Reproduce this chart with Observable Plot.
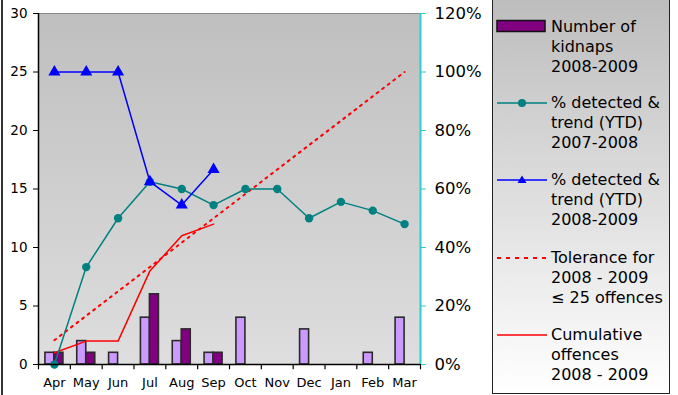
<!DOCTYPE html>
<html><head><meta charset="utf-8">
<script src="https://cdn.jsdelivr.net/npm/d3@7"></script>
<script src="https://cdn.jsdelivr.net/npm/@observablehq/plot@0.6"></script>
<style>
body{margin:0;background:#fff;font-family:"DejaVu Sans",sans-serif;}
#wrap{position:relative;width:678px;height:395px;overflow:hidden;}
#chart{position:absolute;left:0;top:0;}
#legend{position:absolute;left:492px;top:-2px;width:178px;height:396px;box-sizing:border-box;border:1px solid #222;background:linear-gradient(#bdbdbd,#ffffff);}
.mk{position:absolute;left:496px;}
.t{position:absolute;left:551px;font-size:16px;line-height:20px;color:#000;white-space:nowrap;}
#edge{position:absolute;left:1px;top:0;width:2px;height:395px;background:#333;}
</style></head>
<body>
<div id="wrap">
  <div id="chart"></div>
  <div id="edge"></div>
  <div id="legend"></div>
  <svg class="mk" style="top:19px" width="52" height="14"><rect x="1" y="1.5" width="48" height="11" fill="#800080" stroke="#111" stroke-width="1.5"/></svg>
  <div class="t" style="top:17px">Number of<br>kidnaps<br>2008-2009</div>
  <svg class="mk" style="top:96px" width="52" height="14"><line x1="1" x2="51" y1="7" y2="7" stroke="#008080" stroke-width="1.5"/><circle cx="26" cy="7" r="4" fill="#008080"/></svg>
  <div class="t" style="top:93px">% detected &amp;<br>trend (YTD)<br>2007-2008</div>
  <svg class="mk" style="top:173px" width="52" height="14"><line x1="1" x2="51" y1="7" y2="7" stroke="#0000ff" stroke-width="1.5"/><path d="M26,2.5 L30.5,10 L21.5,10 Z" fill="#0000ff"/></svg>
  <div class="t" style="top:170px">% detected &amp;<br>trend (YTD)<br>2008-2009</div>
  <svg class="mk" style="top:251px" width="52" height="14"><line x1="1" x2="51" y1="7" y2="7" stroke="#ff0000" stroke-width="2" stroke-dasharray="4,5"/></svg>
  <div class="t" style="top:248px">Tolerance for<br>2008 - 2009<br>≤ 25 offences</div>
  <svg class="mk" style="top:328px" width="52" height="14"><line x1="1" x2="51" y1="7" y2="7" stroke="#ff0000" stroke-width="1.5"/></svg>
  <div class="t" style="top:325px">Cumulative<br>offences<br>2008 - 2009</div>
</div>
<script>
const months = ["Apr","May","Jun","Jul","Aug","Sep","Oct","Nov","Dec","Jan","Feb","Mar"];
const kidnaps0708 = [1,2,1,4,2,1,4,0,3,0,1,4];
const kidnaps0809 = [1,1,0,6,3,1];
const detected0708 = [0,33.3,50,62.5,60,54.5,60,60,50,55.6,52.6,48];
const detected0809 = [100,100,100,62.5,54.5,66.7];
const tolerance = [2.08,4.17,6.25,8.33,10.42,12.5,14.58,16.67,18.75,20.83,22.92,25];
const cumulative = [1,2,2,8,11,12];
const leftTicks = [0,5,10,15,20,25,30];
const rightTickLabels = ["0%","20%","40%","60%","80%","100%","120%"];
const pctMax = 120, leftMax = 30;

const W = 678, H = 395, ML = 38, MR = 258, MT = 13, MB = 31;
const bw = (W - ML - MR) / months.length;
const barW = 9;

const light = months.map((m,i)=>({month:m, v:kidnaps0708[i]})).filter(d=>d.v>0);
const dark = kidnaps0809.map((v,i)=>({month:months[i], v})).filter(d=>d.v>0);
const teal = detected0708.map((p,i)=>({month:months[i], y:p*leftMax/pctMax}));
const blue = detected0809.map((p,i)=>({month:months[i], y:p*leftMax/pctMax}));
const tol = tolerance.map((v,i)=>({month:months[i], y:v}));
const cum = cumulative.map((v,i)=>({month:months[i], y:v}));

const chart = Plot.plot({
  width: W, height: H,
  marginLeft: ML, marginRight: MR, marginTop: MT, marginBottom: MB,
  style: {fontFamily: "DejaVu Sans", background: "transparent"},
  x: {type: "band", domain: months, padding: 0, round: false},
  y: {domain: [0, leftMax]},
  marks: [
    Plot.frame({fill: "url(#bggrad)", stroke: "#888"}),
    Plot.barY(light, {x: "month", y: "v", fill: "#cc99ff", stroke: "#2a2a2a", strokeWidth: 1.6, insetLeft: bw/2 - barW, insetRight: bw/2}),
    Plot.barY(dark, {x: "month", y: "v", fill: "#800080", stroke: "#2a2a2a", strokeWidth: 1.6, insetLeft: bw/2, insetRight: bw/2 - barW}),
    Plot.line(tol, {x: "month", y: "y", stroke: "#ff0000", strokeWidth: 2, strokeDasharray: "2,5"}),
    Plot.line(cum, {x: "month", y: "y", stroke: "#ff0000", strokeWidth: 1.5}),
    Plot.line(teal, {x: "month", y: "y", stroke: "#008080", strokeWidth: 1.5}),
    Plot.dot(teal, {x: "month", y: "y", fill: "#008080", r: 4.2}),
    Plot.line(blue, {x: "month", y: "y", stroke: "#0000ff", strokeWidth: 1.5}),
    Plot.dot(blue, {x: "month", y: "y", fill: "#0000ff", symbol: "triangle", r: 4.5}),
    Plot.ruleY([0], {stroke: "#000", strokeWidth: 1.5}),
    Plot.ruleX([months[0]], {dx: -bw/2, stroke: "#000", strokeWidth: 1.5}),
    Plot.ruleX([months[months.length-1]], {dx: bw/2, stroke: "#33cccc", strokeWidth: 2}),
    Plot.ruleX(months, {y1: 0, y2: -0.45, dx: -bw/2, stroke: "#000", strokeWidth: 1.2}),
    Plot.ruleX([months[months.length-1]], {y1: 0, y2: -0.45, dx: bw/2, stroke: "#000", strokeWidth: 1.2}),
    Plot.axisX({tickSize: 0, tickPadding: 13, fontSize: 13, label: null}),
    Plot.axisY({anchor: "left", ticks: leftTicks, tickSize: 5, tickPadding: 6, fontSize: 13.5, label: null, stroke: "#000"}),
    Plot.axisY({anchor: "right", ticks: leftTicks, tickSize: 5, tickPadding: 9, fontSize: 16.5, label: null, stroke: "#33cccc", fill: "#000",
      tickFormat: d => rightTickLabels[leftTicks.indexOf(d)]})
  ]
});
const ns = "http://www.w3.org/2000/svg";
const defs = document.createElementNS(ns, "defs");
const g = document.createElementNS(ns, "linearGradient");
g.setAttribute("id", "bggrad"); g.setAttribute("x1", "0"); g.setAttribute("y1", "0"); g.setAttribute("x2", "0"); g.setAttribute("y2", "1");
[["0", "#bfbfbf"], ["1", "#dedede"]].forEach(([o, c]) => {
  const s = document.createElementNS(ns, "stop"); s.setAttribute("offset", o); s.setAttribute("stop-color", c); g.appendChild(s);
});
defs.appendChild(g);
chart.insertBefore(defs, chart.firstChild);
document.getElementById("chart").appendChild(chart);
</script>
</body></html>
